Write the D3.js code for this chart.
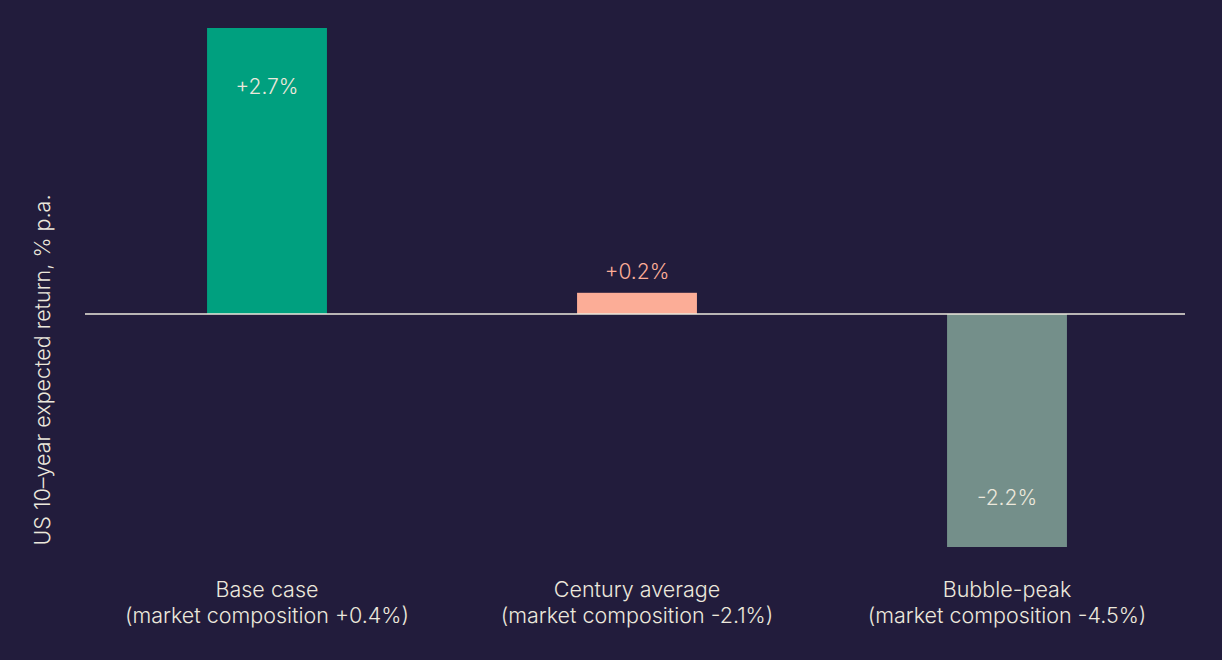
<!DOCTYPE html>
<html>
<head>
<meta charset="utf-8">
<script src="https://cdn.jsdelivr.net/npm/d3@7"></script>
<style>
  html, body { margin: 0; padding: 0; background: #221c3c; }
  text { font-family: "Inter", "Roboto", sans-serif; font-weight: 300; }
</style>
</head>
<body>
<div id="chart"></div>
<script>
// Data
var scenarios = ["Base case", "Century average", "Bubble-peak"];
var subLabels = ["(market composition +0.4%)", "(market composition -2.1%)", "(market composition -4.5%)"];
var returns = [2.7, 0.2, -2.2];
var valueLabels = ["+2.7%", "+0.2%", "-2.2%"];
var barColors = ["#00a07f", "#fcad97", "#748f8a"];
var labelColors = ["#ece8dc", "#fcad97", "#ece8dc"];
var labelInside = [true, false, true];

var w = 1222;
var h = 660;

var svg = d3.select("#chart")
    .append("svg")
    .attr("width", w)
    .attr("height", h);

var x = d3.scaleBand()
    .domain(scenarios)
    .range([82, 1192])
    .paddingInner(0.676)
    .paddingOuter(0.338);

var y = d3.scaleLinear()
    .domain([-2.2, 2.7])
    .range([547, 28]);

var data = scenarios.map(function (s, i) {
    return { name: s, sub: subLabels[i], v: returns[i], label: valueLabels[i],
             color: barColors[i], lc: labelColors[i], inside: labelInside[i] };
});

// Bars
svg.selectAll("rect.bar")
    .data(data)
    .enter()
    .append("rect")
    .attr("class", "bar")
    .attr("x", d => x(d.name))
    .attr("width", x.bandwidth())
    .attr("y", d => y(Math.max(0, d.v)))
    .attr("height", d => Math.abs(y(d.v) - y(0)))
    .attr("fill", d => d.color);

// Zero line
svg.append("line")
    .attr("x1", 85)
    .attr("x2", 1185)
    .attr("y1", y(0))
    .attr("y2", y(0))
    .attr("stroke", "#ece8dc")
    .attr("stroke-width", 1.5);

// Value labels
svg.selectAll("text.value")
    .data(data)
    .enter()
    .append("text")
    .attr("class", "value")
    .attr("x", d => x(d.name) + x.bandwidth() / 2)
    .attr("y", function (d) {
        if (!d.inside) return y(d.v) - 14;
        return d.v > 0 ? y(d.v) + 66 : y(d.v) - 42;
    })
    .attr("text-anchor", "middle")
    .attr("fill", d => d.lc)
    .style("font-size", "21px")
    .text(d => d.label);

// Category labels
var cat = svg.selectAll("text.cat")
    .data(data)
    .enter()
    .append("text")
    .attr("class", "cat")
    .attr("text-anchor", "middle")
    .attr("fill", "#ece8dc")
    .style("font-size", "21.5px");

cat.append("tspan")
    .attr("x", d => x(d.name) + x.bandwidth() / 2)
    .attr("y", 597)
    .text(d => d.name);

cat.append("tspan")
    .attr("x", d => x(d.name) + x.bandwidth() / 2)
    .attr("y", 623)
    .text(d => d.sub);

// Y axis title
svg.append("text")
    .attr("transform", "translate(50, 370) rotate(-90)")
    .attr("text-anchor", "middle")
    .attr("fill", "#ece8dc")
    .style("font-size", "21.5px")
    .text("US 10\u2013year expected return, % p.a.");
</script>
</body>
</html>
